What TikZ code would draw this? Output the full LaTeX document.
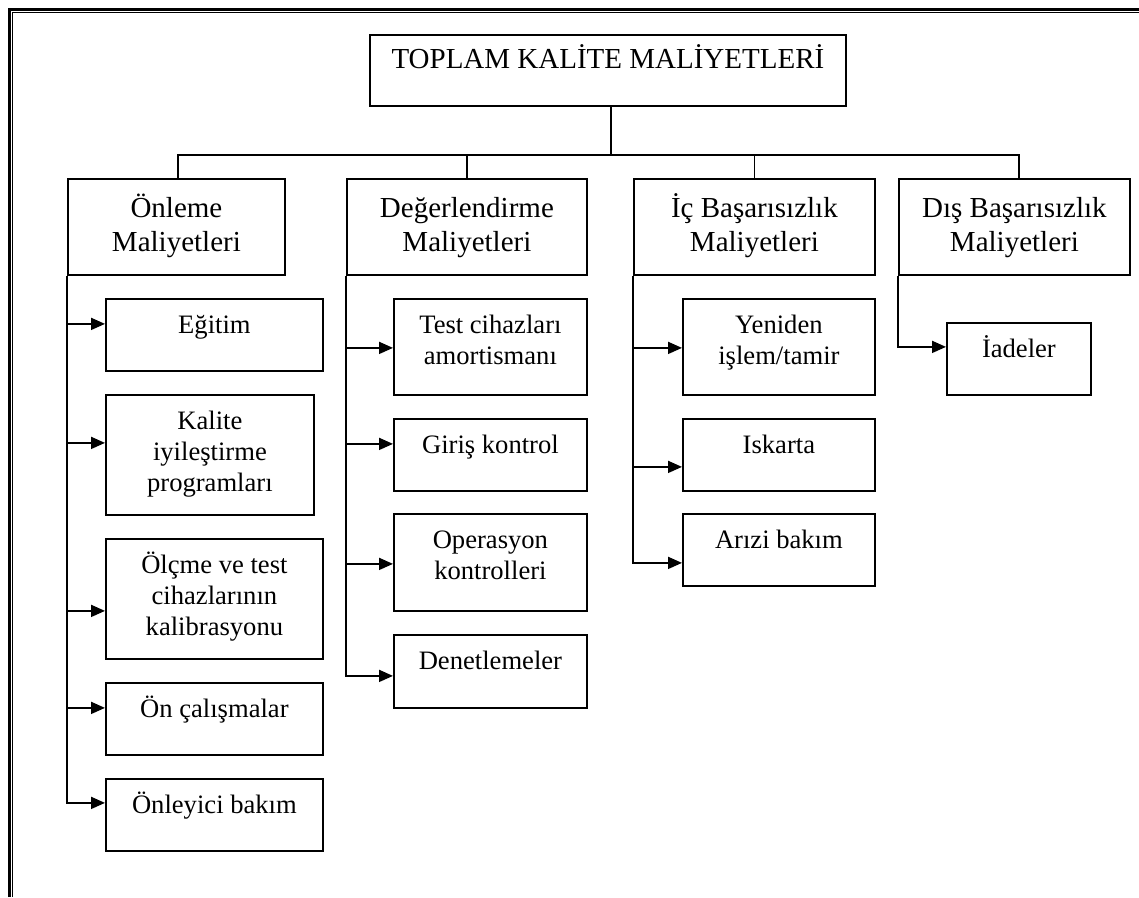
\documentclass[tikz,border=0pt]{standalone}
\usepackage{fontspec}
\setmainfont{Liberation Serif}
\usetikzlibrary{arrows.meta,calc}

% top-aligned, centred text block of fixed size: width, height, first baseline, text
\newcommand\boxtxt[4]{\parbox[t][#2][t]{#1}{\centering\rule{0pt}{#3}#4}}

\tikzset{
  box/.style={draw, line width=1.8pt, inner sep=0pt, anchor=north west},
  bigfont/.style={font=\fontsize{29}{33.5}\selectfont},
  smallfont/.style={font=\fontsize{26.6}{31}\selectfont},
  link/.style={line width=1.8pt},
  arr/.style={link, -{Triangle[length=14pt,width=12pt]}},
}

\begin{document}
\begin{tikzpicture}[x=1pt,y=-1pt]
\useasboundingbox (0,0) rectangle (1139,897);

% page border (thick-thin, left and top)
\draw[line width=3pt] (9.5,897) -- (9.5,9.5) -- (1139,9.5);
\draw[line width=1.3pt] (12.7,897) -- (12.7,12.7) -- (1139,12.7);

% root
\node[box,bigfont] (top) at (369,34) {\boxtxt{476pt}{71pt}{34pt}{TOPLAM KALİTE MALİYETLERİ}};

% cost groups
\node[box,bigfont] (onl) at (67,178)  {\boxtxt{217pt}{96pt}{39pt}{Önleme\\Maliyetleri}};
\node[box,bigfont] (deg) at (346,178) {\boxtxt{240pt}{96pt}{39pt}{Değerlendirme\\Maliyetleri}};
\node[box,bigfont] (ic)  at (633,178) {\boxtxt{241pt}{96pt}{39pt}{İç Başarısızlık\\Maliyetleri}};
\node[box,bigfont] (dis) at (898,178) {\boxtxt{231pt}{96pt}{39pt}{Dış Başarısızlık\\Maliyetleri}};

% prevention
\node[box,smallfont] (egi) at (105,298) {\boxtxt{217pt}{72pt}{35pt}{Eğitim}};
\node[box,smallfont] (kal) at (105,394) {\boxtxt{208pt}{120pt}{35pt}{Kalite\\iyileştirme\\programları}};
\node[box,smallfont] (olc) at (105,538) {\boxtxt{217pt}{120pt}{35pt}{Ölçme ve test\\cihazlarının\\kalibrasyonu}};
\node[box,smallfont] (onc) at (105,682) {\boxtxt{217pt}{72pt}{35pt}{Ön çalışmalar}};
\node[box,smallfont] (onb) at (105,778) {\boxtxt{217pt}{72pt}{35pt}{Önleyici bakım}};

% appraisal
\node[box,smallfont] (tst) at (393,298) {\boxtxt{193pt}{96pt}{35pt}{Test cihazları\\amortismanı}};
\node[box,smallfont] (gir) at (393,418) {\boxtxt{193pt}{72pt}{35pt}{Giriş kontrol}};
\node[box,smallfont] (ope) at (393,513) {\boxtxt{193pt}{97pt}{35pt}{Operasyon\\kontrolleri}};
\node[box,smallfont] (den) at (393,634) {\boxtxt{193pt}{73pt}{35pt}{Denetlemeler}};

% internal failure
\node[box,smallfont] (yen) at (682,298) {\boxtxt{192pt}{96pt}{35pt}{Yeniden\\işlem/tamir}};
\node[box,smallfont] (isk) at (682,418) {\boxtxt{192pt}{72pt}{35pt}{Iskarta}};
\node[box,smallfont] (ari) at (682,513) {\boxtxt{192pt}{72pt}{35pt}{Arızi bakım}};

% external failure
\node[box,smallfont] (iad) at (946,322) {\boxtxt{144pt}{72pt}{35pt}{İadeler}};

% root to groups
\draw[link] ($(top.south)+(3,0)$) -- ++(0,48) coordinate (hub);
\draw[link] ($(onl.north)+(1.5,0)$) |- (hub) -| ($(dis.north)+(4.5,0)$);
\draw[link] (deg.north) -- (deg.north |- hub);
\draw[link] (ic.north) -- (ic.north |- hub);

% groups to items
\draw[arr] (onl.south west) |- ($(egi.west)+(0,-11)$);
\draw[arr] (onl.south west) |- ($(kal.west)+(0,-12)$);
\draw[arr] (onl.south west) |- ($(olc.west)+(0,12)$);
\draw[arr] (onl.south west) |- ($(onc.west)+(0,-11)$);
\draw[arr] (onl.south west) |- ($(onb.west)+(0,-12)$);

\draw[arr] (deg.south west) |- ($(tst.west)+(0,1)$);
\draw[arr] (deg.south west) |- ($(gir.west)+(0,-11)$);
\draw[arr] (deg.south west) |- ($(ope.west)+(0,1.5)$);
\draw[arr] (deg.south west) |- ($(den.west)+(0,4.5)$);

\draw[arr] (ic.south west) |- ($(yen.west)+(0,1)$);
\draw[arr] (ic.south west) |- ($(isk.west)+(0,12)$);
\draw[arr] (ic.south west) |- ($(ari.west)+(0,13)$);

\draw[arr] (dis.south west) |- ($(iad.west)+(0,-12)$);
\end{tikzpicture}
\end{document}
